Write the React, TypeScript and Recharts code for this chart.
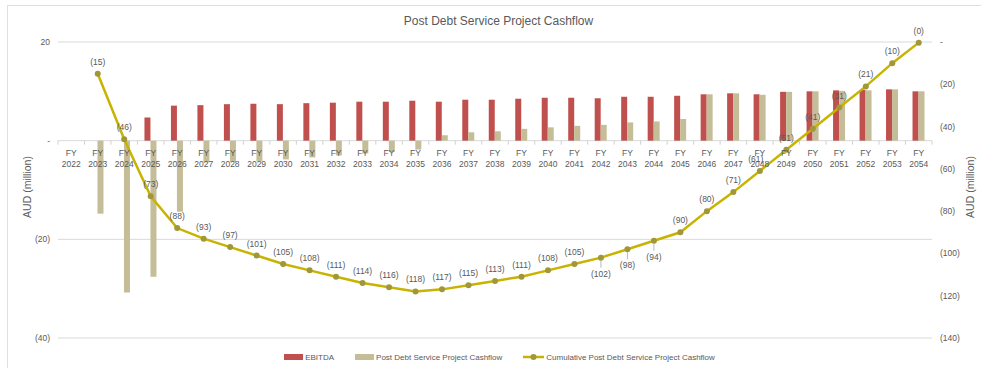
import React from 'react';
import { ComposedChart, Bar, Line, XAxis, YAxis, CartesianGrid, Legend, LabelList } from 'recharts';

const years = ['2022','2023','2024','2025','2026','2027','2028','2029','2030','2031','2032','2033','2034','2035','2036','2037','2038','2039','2040','2041','2042','2043','2044','2045','2046','2047','2048','2049','2050','2051','2052','2053','2054'];
const ebitda = [0,0,0,4.7,7.1,7.2,7.4,7.5,7.4,7.6,7.7,7.9,7.9,8.1,7.9,8.3,8.3,8.5,8.7,8.7,8.6,8.9,8.9,9.1,9.4,9.6,9.4,9.9,10.0,10.2,10.3,10.4,10.0];
const postDebt = [0,-14.8,-30.8,-27.6,-14.4,-4.4,-4.3,-4.2,-3.8,-3.4,-3.0,-2.6,-2.3,-1.8,1.1,1.7,1.9,2.4,2.7,3.0,3.2,3.7,3.9,4.4,9.4,9.6,9.3,9.9,10.0,10.1,10.2,10.4,10.0];
const cumulative: (number | null)[] = [null,-15,-46,-73,-88,-93,-97,-101,-105,-108,-111,-114,-116,-118,-117,-115,-113,-111,-108,-105,-102,-98,-94,-90,-80,-71,-61,-51,-41,-31,-21,-10,-0.3];
const leftTicks = [-40,-20,0,20];
const rightTicks = [-140,-120,-100,-80,-60,-40,-20,0];
const seriesNames = ['EBITDA', 'Post Debt Service Project Cashflow', 'Cumulative Post Debt Service Project Cashflow'];

const data = years.map((y, i) => ({
  year: y,
  base: 0,
  ebitda: ebitda[i],
  postDebt: postDebt[i],
  cumulative: cumulative[i],
}));

const W = 981;
const H = 368;
const LEFT_W = 58;
const RIGHT_W = 49;
const PLOT_W = W - LEFT_W - RIGHT_W;
const HALF_BAND = PLOT_W / years.length / 2;
const TEXT = '#595959';
const FONT = '"Liberation Sans", Arial, sans-serif';
const belowLabels = new Set(['2042','2043','2044']);
const leftShiftLabels = new Set(['2048']);

const fmt = (v: number) => (v < 0 ? `(${Math.abs(Math.round(v))})` : v === 0 ? '-' : `${Math.round(v)}`);

const CategoryLabel = (props: any) => {
  const vb = props.viewBox || {};
  const x = props.x ?? vb.x;
  const y = props.y ?? vb.y;
  const idx = props.index ?? years.indexOf(String(props.value));
  return (
    <g>
      <line x1={x - HALF_BAND} x2={x - HALF_BAND} y1={y} y2={y + 4} stroke="#d0d0d0" />
      {idx === years.length - 1 && (
        <line x1={x + HALF_BAND} x2={x + HALF_BAND} y1={y} y2={y + 4} stroke="#d0d0d0" />
      )}
      <text x={x} y={y + 15} textAnchor="middle" fontSize={8.5} fill={TEXT} fontFamily={FONT}>FY</text>
      <text x={x} y={y + 26} textAnchor="middle" fontSize={8.5} fill={TEXT} fontFamily={FONT}>{props.value}</text>
    </g>
  );
};

const CumLabel = (props: any) => {
  const vb = props.viewBox || {};
  const x = props.x ?? vb.x;
  const y = props.y ?? vb.y;
  const value = props.value;
  if (value == null || x == null || y == null) return null;
  const idx = props.index;
  const yr = idx != null ? years[idx] : '';
  const text = fmt(Number(value));
  if (belowLabels.has(yr)) {
    return (
      <g>
        <line x1={x} x2={x} y1={y + 3} y2={y + 10} stroke="#a6a6a6" strokeWidth={0.8} />
        <text x={x} y={y + 19} textAnchor="middle" fontSize={8.5} fill={TEXT} fontFamily={FONT}>{text}</text>
      </g>
    );
  }
  const dx = leftShiftLabels.has(yr) ? -4 : 0;
  return (
    <text x={x + dx} y={y - 9} textAnchor="middle" fontSize={8.5} fill={TEXT} fontFamily={FONT}>{text}</text>
  );
};

const LegendContent = (props: any) => {
  const raw = (props.payload || []).filter((e: any) => seriesNames.includes(e.value));
  const payload = seriesNames.map((n) => raw.find((e: any) => e.value === n)).filter(Boolean);
  return (
    <div style={{ display: 'flex', justifyContent: 'center', alignItems: 'center', height: 14, paddingLeft: 18, fontSize: 8, color: TEXT, fontFamily: FONT }}>
      {payload.map((entry: any, i: number) => (
        <div key={i} style={{ display: 'flex', alignItems: 'center', marginLeft: i === 0 ? 0 : 21 }}>
          {entry.type === 'line' ? (
            <svg width={21} height={8} style={{ marginRight: 2 }}>
              <line x1={0} x2={21} y1={4} y2={4} stroke={entry.color} strokeWidth={2.5} />
              <circle cx={10.5} cy={4} r={3} fill="#a0973a" />
            </svg>
          ) : (
            <svg width={19} height={6} style={{ marginRight: 2 }}>
              <rect x={0} y={0} width={19} height={6} fill={entry.color} />
            </svg>
          )}
          <span>{entry.value}</span>
        </div>
      ))}
    </div>
  );
};

const AxisTitle = (side: 'left' | 'right') => (props: any) => {
  const vb = props.viewBox || {};
  const cx = side === 'left' ? vb.x + 27 : vb.x + 38;
  const cy = vb.y + vb.height / 2 - 3;
  return (
    <text x={cx} y={cy} transform={`rotate(-90, ${cx}, ${cy})`} textAnchor="middle" dominantBaseline="central" fontSize={10.5} fill={TEXT} fontFamily={FONT}>
      AUD (million)
    </text>
  );
};

export default function App() {
  return (
    <div style={{ position: 'absolute', left: 0, top: 0, width: W, height: H, overflow: 'hidden', background: '#fff', fontFamily: FONT }}>
      <div style={{ position: 'absolute', left: 7, top: 5, width: W, height: H, border: '1px solid #e0e0e0', boxSizing: 'border-box' }} />
      <div style={{ position: 'absolute', left: 0, top: 14, width: W, textAlign: 'center', fontSize: 12, color: TEXT, paddingLeft: 16, boxSizing: 'border-box' }}>
        Post Debt Service Project Cashflow
      </div>
      <div style={{ position: 'absolute', left: 0, top: 0 }}>
        <ComposedChart width={W} height={H} data={data} margin={{ top: 42, right: 0, left: 0, bottom: 16 }} barGap={0} barSize={6}>
          <CartesianGrid yAxisId="left" horizontal vertical={false} stroke="#d9d9d9" />
          <XAxis dataKey="year" hide />
          <YAxis
            yAxisId="left"
            domain={[-40, 20]}
            ticks={leftTicks}
            width={LEFT_W}
            axisLine={false}
            tickLine={false}
            tickFormatter={fmt}
            tick={{ fontSize: 8.5, fill: TEXT, fontFamily: FONT }}
            label={{ content: AxisTitle('left') }}
          />
          <YAxis
            yAxisId="right"
            orientation="right"
            domain={[-140, 0]}
            ticks={rightTicks}
            width={RIGHT_W}
            axisLine={false}
            tickLine={false}
            tickFormatter={fmt}
            tick={{ fontSize: 8.5, fill: TEXT, fontFamily: FONT, textAnchor: 'start' }}
            label={{ content: AxisTitle('right') }}
          />
          <Legend verticalAlign="bottom" content={LegendContent} wrapperStyle={{ top: 350, bottom: 'auto', left: 0, width: W }} />
          <Bar yAxisId="left" dataKey="ebitda" name={seriesNames[0]} fill="#c0504d" isAnimationActive={false} />
          <Bar yAxisId="left" dataKey="postDebt" name={seriesNames[1]} fill="#c4bd97" isAnimationActive={false} />
          <Line yAxisId="left" dataKey="base" stroke="none" dot={false} activeDot={false} legendType="none" isAnimationActive={false}>
            <LabelList dataKey="year" content={CategoryLabel} />
          </Line>
          <Line
            yAxisId="right"
            dataKey="cumulative"
            name={seriesNames[2]}
            stroke="#c8b400"
            strokeWidth={2.5}
            dot={{ r: 3, fill: '#a0973a', stroke: 'none' }}
            activeDot={false}
            isAnimationActive={false}
          >
            <LabelList dataKey="cumulative" content={CumLabel} />
          </Line>
        </ComposedChart>
      </div>
    </div>
  );
}
